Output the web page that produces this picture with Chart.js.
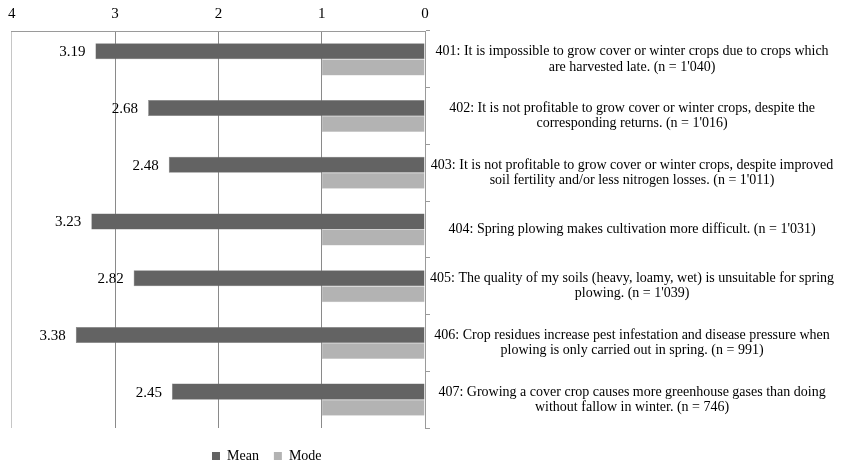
<!DOCTYPE html>
<html>
<head>
<meta charset="utf-8">
<style>
  html, body { margin: 0; padding: 0; background: #fff; }
  #wrap { width: 852px; height: 465px; }
</style>
</head>
<body>
<div id="wrap"><canvas id="chart" width="852" height="465"></canvas></div>
<script src="https://cdn.jsdelivr.net/npm/chart.js"></script>
<script>
const categories = [
  ['401: It is impossible to grow cover or winter crops due to crops which', 'are harvested late. (n = 1\'040)'],
  ['402: It is not profitable to grow cover or winter crops, despite the', 'corresponding returns. (n = 1\'016)'],
  ['403: It is not profitable to grow cover or winter crops, despite improved', 'soil fertility and/or less nitrogen losses. (n = 1\'011)'],
  ['404: Spring plowing makes cultivation more difficult. (n = 1\'031)'],
  ['405: The quality of my soils (heavy, loamy, wet) is unsuitable for spring', 'plowing. (n = 1\'039)'],
  ['406: Crop residues increase pest infestation and disease pressure when', 'plowing is only carried out in spring. (n = 991)'],
  ['407: Growing a cover crop causes more greenhouse gases than doing', 'without fallow in winter. (n = 746)']
];
const meanValues = [3.19, 2.68, 2.48, 3.23, 2.82, 3.38, 2.45];
const modeValues = [1, 1, 1, 1, 1, 1, 1];
const seriesNames = ['Mean', 'Mode'];

const serif = "'Liberation Serif', 'Times New Roman', serif";

// mean values written left of each dark bar
const meanLabels = {
  id: 'meanLabels',
  afterDatasetsDraw(chart) {
    const ctx = chart.ctx;
    const meta = chart.getDatasetMeta(0);
    ctx.save();
    ctx.font = '15px ' + serif;
    ctx.fillStyle = '#000';
    ctx.textAlign = 'right';
    ctx.textBaseline = 'middle';
    meta.data.forEach((bar, i) => {
      ctx.fillText(meanValues[i].toFixed(2), bar.x - 10, bar.y + 1);
    });
    ctx.restore();
  }
};

// move the legend under the left part of the chart, a bit lower
const shiftLegend = {
  id: 'shiftLegend',
  afterLayout(chart) {
    const lg = chart.legend;
    const w = lg.right - lg.left;
    const h = lg.bottom - lg.top;
    lg.left = 197;
    lg.right = lg.left + w;
    lg.top += 6;
    lg.bottom = lg.top + h;
  }
};

new Chart(document.getElementById('chart'), {
  type: 'bar',
  data: {
    labels: categories,
    datasets: [
      { label: seriesNames[0], data: meanValues, backgroundColor: '#636363', borderColor: '#7a7a7a', borderWidth: 0.5 },
      { label: seriesNames[1], data: modeValues, backgroundColor: '#b3b3b3', borderColor: '#c4c4c4', borderWidth: 0.5 }
    ]
  },
  options: {
    indexAxis: 'y',
    responsive: false,
    animation: false,
    layout: { padding: { left: 10, top: -3, right: 0, bottom: -2 } },
    datasets: { bar: { categoryPercentage: 0.565, barPercentage: 1 } },
    scales: {
      x: {
        position: 'top',
        reverse: true,
        min: 0,
        max: 4,
        ticks: { stepSize: 1, color: '#000', font: { family: serif, size: 15 }, padding: 8 },
        grid: {
          color: c => (c.tick && c.tick.value === 4) ? '#c6c6c6' : '#8a8a8a',
          tickLength: 0,
          drawTicks: false
        },
        border: { color: '#9a9a9a' }
      },
      y: {
        position: 'right',
        afterFit(s) { s.width = 427; },
        ticks: {
          crossAlign: 'center',
          padding: 0,
          color: '#000',
          font: { family: serif, size: 14, lineHeight: 1.08 }
        },
        grid: { drawOnChartArea: false, tickLength: 5, color: '#9a9a9a' },
        border: { color: '#9a9a9a' }
      }
    },
    plugins: {
      legend: {
        position: 'bottom',
        align: 'start',
        labels: {
          boxWidth: 8,
          boxHeight: 8,
          padding: 15,
          color: '#000',
          font: { family: serif, size: 14 },
          generateLabels(chart) {
            return chart.data.datasets.map((d, i) => ({
              text: d.label, fillStyle: d.backgroundColor, strokeStyle: d.backgroundColor,
              lineWidth: 0, datasetIndex: i
            }));
          }
        }
      },
      tooltip: { enabled: false }
    }
  },
  plugins: [meanLabels, shiftLegend]
});
</script>
</body>
</html>
